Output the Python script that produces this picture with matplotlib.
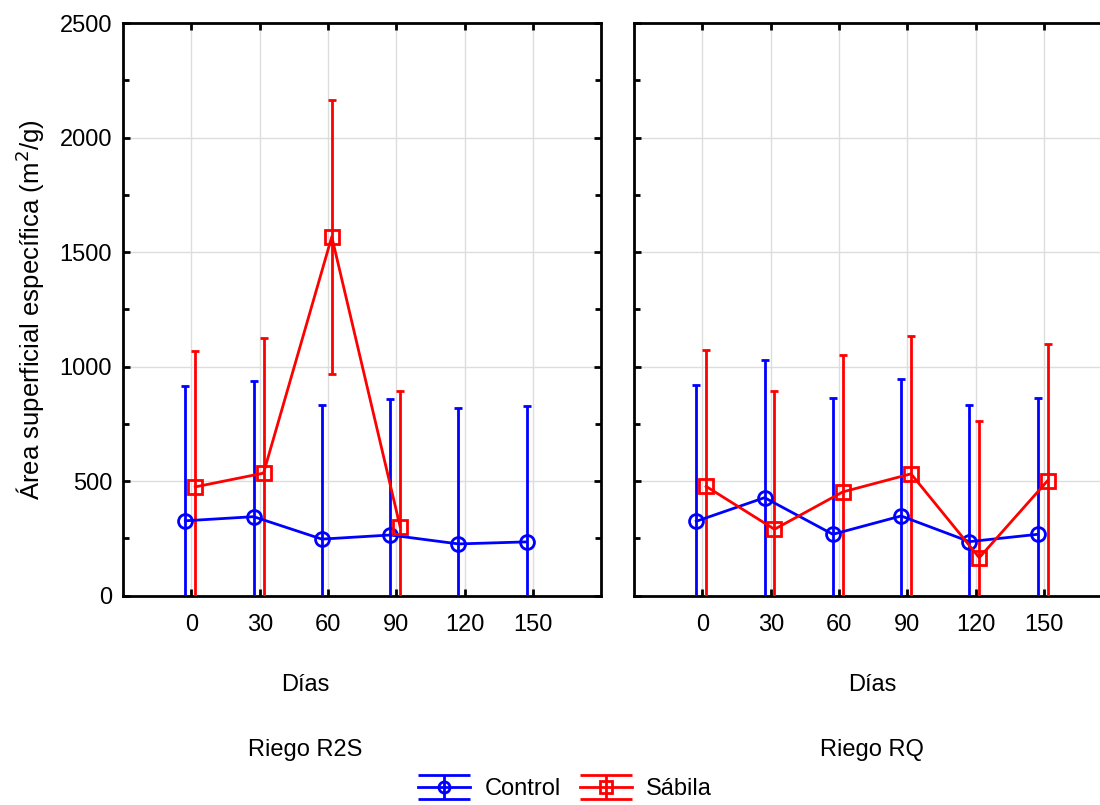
import numpy as np
import matplotlib.pyplot as plt
from matplotlib.ticker import MultipleLocator

plt.rcParams['font.family'] = ['Liberation Sans', 'DejaVu Sans']

dias = ["0", "30", "60", "90", "120", "150"]
paneles = ["Riego R2S", "Riego RQ"]

# medias y semiamplitud de las barras de error
control_r2s = [327, 345, 247, 265, 226, 235]
control_r2s_err = [590, 593, 587, 595, 595, 595]
sabila_r2s = [475, 535, 1567, 302]
sabila_r2s_err = [592, 592, 598, 593]

control_rq = [325, 428, 268, 348, 236, 268]
control_rq_err = [595, 600, 593, 598, 597, 595]
sabila_rq = [477, 290, 453, 532, 166, 502]
sabila_rq_err = [594, 602, 596, 602, 598, 597]

datos = [
    (control_r2s, control_r2s_err, sabila_r2s, sabila_r2s_err),
    (control_rq, control_rq_err, sabila_rq, sabila_rq_err),
]

fig = plt.figure(figsize=(11, 8.05), dpi=100)
ax1 = fig.add_axes([0.112, 0.26, 0.4345, 0.7114])
ax2 = fig.add_axes([0.5765, 0.26, 0.4345, 0.7114])
axes = [ax1, ax2]

fs = 17
estilo = dict(lw=2, ms=10, mfc="none", mew=2, capthick=2, zorder=3)
for k, ax in enumerate(axes):
    c, ce, s, se = datos[k]
    xc = np.arange(len(c)) - 0.09
    xs = np.arange(len(s)) + 0.055
    ax.errorbar(xc, c, yerr=ce, color="blue", marker="o", capsize=3, **estilo)
    ax.errorbar(xs, s, yerr=se, color="red", marker="s", capsize=3, **estilo)
    ax.set_xlim(-1, 6)
    ax.set_ylim(0, 2500)
    ax.set_xticks(range(len(dias)))
    ax.set_xticklabels(dias, fontsize=fs)
    ax.yaxis.set_major_locator(MultipleLocator(500))
    ax.yaxis.set_minor_locator(MultipleLocator(250))
    ax.grid(True, color="#dddddd", lw=1, zorder=0)
    ax.tick_params(direction="in", top=True, right=True, length=5, width=2,
                   labelsize=fs, pad=13)
    ax.tick_params(axis="y", pad=8)
    ax.tick_params(which="minor", direction="in", left=True, right=True,
                   length=4, width=2)
    for sp in ax.spines.values():
        sp.set_linewidth(2)
    if k == 1:
        ax.tick_params(labelleft=False)
    ax.set_axisbelow(True)

ax1.set_ylabel("Área superficial específica (m$^2$/g)", fontsize=18.5, labelpad=9)

# proxies para la leyenda con tapas anchas
axp = fig.add_axes([0, 0, 0.01, 0.01])
axp.set_visible(False)
hc = axp.errorbar([0], [0], yerr=[1], color="blue", marker="o", capsize=19,
                  lw=2, ms=8, mfc="none", mew=2, capthick=2)
hs = axp.errorbar([0], [0], yerr=[1], color="red", marker="s", capsize=19,
                  lw=2, ms=8, mfc="none", mew=2, capthick=2)

fig.text(305 / 1100, 1 - 685 / 805, "Días", ha="center", va="center", fontsize=fs)
fig.text(872 / 1100, 1 - 685 / 805, "Días", ha="center", va="center", fontsize=fs)
fig.text(305 / 1100, 1 - 750 / 805, paneles[0], ha="center", va="center", fontsize=fs)
fig.text(872 / 1100, 1 - 750 / 805, paneles[1], ha="center", va="center", fontsize=fs)

fig.legend([hc, hs], ["Control", "Sábila"], loc="center",
           bbox_to_anchor=(565 / 1100, 1 - 789 / 805), ncol=2, frameon=False,
           fontsize=fs, handlelength=2.2, handletextpad=0.6, columnspacing=0.8)

fig.savefig("out.png", dpi=100)
